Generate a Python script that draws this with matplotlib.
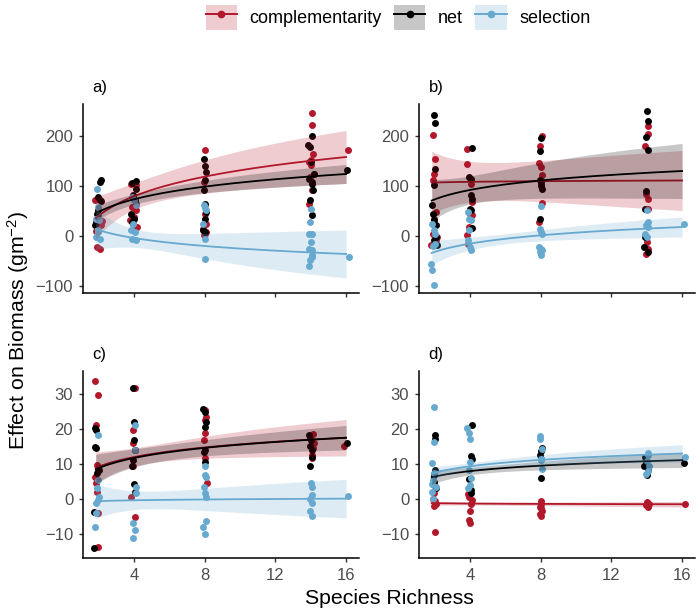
import numpy as np
import matplotlib
matplotlib.use("Agg")
import matplotlib.pyplot as plt
from matplotlib.patches import Patch
from matplotlib.lines import Line2D
from matplotlib.legend_handler import HandlerTuple

plt.rcParams['font.family'] = ['Liberation Sans', 'DejaVu Sans']
plt.rcParams['mathtext.default'] = 'regular'

# ---------------- data ----------------
series_names = ["complementarity", "net", "selection"]
series_colors = ["#B2182B", "#000000", "#67A9CF"]
panel_labels = ["a)", "b)", "c)", "d)"]
x_ticks = [4, 8, 12, 16]
y_ticks_top = [-100, 0, 100, 200]
y_ticks_bottom = [-10, 0, 10, 20, 30]

# panel a
a_comp_x = [1.8, 2.15, 1.9, 2.1, 2.0, 2.2, 1.85, 3.85, 4.1, 3.9, 4.15, 4.0, 3.8, 4.2, 3.95,
            8.0, 7.95, 8.05, 7.9, 8.1, 8.0, 7.95, 8.1,
            14.05, 14.1, 14.15, 13.9, 14.0, 14.2, 13.95, 14.05, 13.9, 14.0, 16.1]
a_comp_y = [72, 22, -21, -25, 42, 30, 10, 105, 102, 59, 52, 39, 32, 19, 25,
            172, 109, 45, 15, 9, 5, 2, 25,
            247, 222, 165, 149, 142, 125, 119, 92, 65, 152, 173]
a_net_x = [2.15, 2.1, 2.0, 2.1, 1.85, 1.8, 1.9, 2.0, 2.15, 4.1, 3.9, 4.15, 3.95, 4.05, 3.85, 4.0, 3.9, 4.1,
           7.95, 8.05, 8.1, 8.0, 7.95, 8.05, 8.1, 8.0, 7.9, 8.05,
           14.1, 13.95, 13.85, 14.0, 14.2, 13.9, 14.1, 14.15, 13.95, 14.1, 14.05, 16.05]
a_net_y = [112, 109, 79, 72, 29, 22, 45, 52, 70, 110, 107, 95, 82, 72, 45, 35, 29, 65,
           155, 140, 129, 112, 92, 65, 49, 35, 12, 9,
           200, 179, 182, 149, 125, 115, 109, 92, 72, 42, 105, 132]
a_sel_x = [1.9, 2.0, 1.85, 1.95, 1.85, 2.1, 2.05, 1.95, 3.9, 4.0, 4.15, 3.95, 3.85, 4.05, 3.9, 4.15,
           7.95, 8.05, 8.1, 7.9, 8.0, 8.0,
           14.0, 13.95, 13.9, 14.05, 14.0, 13.9, 14.1, 14.05, 13.95, 13.9, 14.1, 16.15]
a_sel_y = [95, 59, 35, 12, -1, -5, 32, 9, 79, 72, 62, 25, 12, 9, -5, -8,
           62, 57, 52, 25, -5, -45,
           55, 29, 5, 4, -11, -25, -28, -38, -48, -60, -41, -41]

# panel b
b_comp_x = [1.9, 2.05, 1.95, 1.9, 2.1, 2.0, 1.9, 2.15, 2.1, 1.8,
            3.85, 3.85, 4.05, 4.1, 4.0, 4.15, 3.95, 3.85, 3.9,
            8.1, 7.95, 7.9, 8.0, 8.1, 8.05, 8.1, 7.9,
            14.1, 14.05, 13.9, 13.95, 14.05, 14.1, 14.0, 14.1, 13.95]
b_comp_y = [202, 155, 125, 112, 49, 35, 5, -1, -8, -18,
            175, 144, 105, 69, 45, 42, 19, 2, -15,
            200, 181, 147, 139, 123, 100, 67, 29,
            221, 205, 180, 85, 75, 55, -11, -25, -35]
b_net_x = [2.0, 2.05, 2.05, 2.0, 1.85, 1.9, 1.95, 2.1, 1.95, 2.05, 2.15, 2.1,
           4.1, 3.95, 4.05, 4.05, 4.1, 4.0, 4.05, 4.1,
           8.05, 7.95, 7.95, 8.0, 8.05, 8.1, 7.95,
           14.0, 14.05, 13.95, 14.05, 13.95, 13.9, 13.9, 13.85, 14.1]
b_net_y = [242, 227, 135, 102, 62, 45, 32, 22, -8, -15, -18, -1,
           177, 119, 115, 82, 75, 55, 52, 17,
           197, 170, 113, 109, 102, 95, 35,
           251, 230, 199, 173, 91, 55, -1, -21, -31]
b_sel_x = [1.85, 2.0, 2.05, 1.9, 1.8, 1.85, 1.95, 2.05,
           3.9, 3.95, 4.05, 3.95, 3.9, 4.05, 4.0,
           8.05, 7.95, 8.05, 8.1, 7.9, 8.1, 7.95, 8.05, 8.0,
           14.0, 14.1, 13.95, 14.05, 13.9, 14.0, 16.1]
b_sel_y = [24, 12, 5, -20, -55, -67, -97, -15,
           49, 35, 32, 12, -8, -28, -21,
           60, 15, 9, 5, -21, -28, -31, -38, -25,
           52, 29, 22, 19, 5, -1, 25]

# panel c
c_comp_x = [1.8, 1.95, 1.85, 1.9, 1.95, 1.8, 1.85, 1.9, 2.0, 2.0,
            4.05, 3.95, 3.95, 3.95, 3.85, 4.05, 4.05,
            8.05, 8.1, 8.05, 8.0, 7.95, 8.0, 8.15,
            14.15, 13.95, 14.15, 14.05, 14.1, 14.2, 15.9]
c_comp_y = [33.8, 29.7, 21.2, 9.7, 9.2, 6.4, 4.5, 2.1, -4.1, -13.8,
            31.6, 19.7, 15.9, 9.5, 0.6, -5.1, 14.0,
            25.3, 23.4, 22.7, 18.9, 16.9, 11.6, 4.6,
            18.6, 17.4, 14.5, 12.6, 11.6, 15.9, 15.1]
c_net_x = [1.8, 1.85, 1.8, 1.85, 1.95, 1.9, 1.75, 1.75, 2.05,
           3.95, 4.0, 4.0, 4.05, 3.95, 3.9, 4.0, 4.05,
           7.9, 8.0, 8.1, 8.05, 8.0, 8.05, 7.95,
           13.9, 14.0, 13.95, 14.05, 14.1, 13.95, 16.05]
c_net_y = [20.2, 19.7, 14.9, 14.7, 8.7, 7.3, -3.6, -14.1, 8.3,
           31.6, 22.1, 16.9, 14.0, 11.2, 9.3, 4.3, 2.1,
           25.8, 24.9, 22.1, 20.7, 14.0, 10.7, 13.5,
           18.3, 16.9, 15.1, 14.0, 12.1, 9.5, 16.1]
c_sel_x = [1.95, 2.0, 1.9, 2.05, 1.95, 1.85, 1.85, 1.8,
           4.05, 4.05, 4.1, 4.1, 3.95, 4.05, 3.95,
           8.0, 8.05, 8.1, 7.95, 8.05, 8.1, 8.1, 7.9, 8.0,
           14.0, 14.1, 14.05, 13.95, 14.1, 13.95, 14.1, 16.1]
c_sel_y = [18.3, 5.4, 3.0, 0.6, -0.3, -1.2, -4.1, -7.9,
           21.2, 14.0, 3.5, 1.6, -6.8, -8.8, -11.2,
           9.5, 6.9, 6.2, 3.5, 1.6, 0.6, -6.3, -7.9, -10.1,
           4.5, 3.5, 1.1, 0.1, -1.2, -3.3, -5.0, 0.9]

# panel d
d_comp_x = [2.0, 1.9, 2.05, 2.1, 1.95, 2.05,
            3.9, 3.95, 4.1, 4.05, 4.0, 3.95, 4.0,
            8.0, 8.05, 7.95, 8.1, 7.95, 8.0, 8.05,
            14.0, 14.1, 13.95, 14.05, 14.15, 16.15]
d_comp_y = [1.6, 0.1, -0.7, -1.3, -2.0, -9.5,
            1.3, 0.6, -0.4, -1.3, -3.5, -6.1, -6.9,
            -0.7, -1.5, -2.3, -3.4, -4.2, -4.9, -2.7,
            -0.8, -1.3, -1.8, -2.3, -1.5, -1.5]
d_net_x = [2.05, 2.05, 2.05, 1.95, 1.95, 2.0, 2.1,
           4.1, 4.05, 4.1, 3.95, 4.05, 4.05,
           8.0, 7.95, 8.05, 8.0, 8.1,
           13.9, 13.85, 14.0, 14.1, 13.95, 16.1]
d_net_y = [18.4, 17.0, 8.4, 6.8, 4.9, 3.9, 3.0,
           21.2, 12.3, 11.3, 5.6, 2.5, 1.7,
           13.6, 12.7, 11.3, 5.9, 14.7,
           12.1, 9.5, 6.9, 8.2, 10.3, 10.4]
d_sel_x = [1.95, 1.95, 1.85, 1.9, 1.85, 2.1, 1.85, 1.9, 2.0,
           3.85, 3.95, 4.0, 4.0, 3.95, 4.0, 3.9, 4.05,
           7.95, 7.95, 8.1, 8.05, 8.1, 8.0,
           14.05, 14.1, 14.0, 14.15, 14.05, 13.95, 16.15]
d_sel_y = [26.2, 16.4, 10.2, 5.4, 4.3, 3.5, 2.1, 0.1, 7.3,
           20.2, 18.8, 17.0, 10.7, 8.4, 3.9, 3.0, 5.9,
           17.9, 17.1, 14.4, 11.5, 8.7, 11.0,
           13.2, 12.6, 10.9, 9.5, 7.9, 7.2, 11.9]

# fitted log-richness smooths:
# [fit at S=2, fit at S=16, CI half-width at S=2, minimum CI half-width, CI half-width at S=16]
a_comp_fit = [40, 158, 40, 26, 53]
a_net_fit = [48, 124, 15, 10, 19]
a_sel_fit = [12, -36, 38, 17, 48]
b_comp_fit = [107, 111, 60, 38, 60]
b_net_fit = [73, 130, 40, 28, 55]
b_sel_fit = [-32, 18, 23, 10, 20]
c_comp_fit = [9.2, 17.5, 4.3, 2.5, 5.2]
c_net_fit = [8.8, 17.5, 4.1, 2.2, 3.5]
c_sel_fit = [-0.6, 0.1, 4.7, 2.5, 5.5]
d_comp_fit = [-1.2, -1.5, 0.6, 0.4, 0.8]
d_net_fit = [6.4, 11.1, 1.9, 1.0, 2.1]
d_sel_fit = [7.5, 13.0, 1.7, 1.0, 2.5]
fit_range = [1.85, 16.0]

panels = [
    [(a_comp_x, a_comp_y, a_comp_fit), (a_net_x, a_net_y, a_net_fit), (a_sel_x, a_sel_y, a_sel_fit)],
    [(b_comp_x, b_comp_y, b_comp_fit), (b_net_x, b_net_y, b_net_fit), (b_sel_x, b_sel_y, b_sel_fit)],
    [(c_comp_x, c_comp_y, c_comp_fit), (c_net_x, c_net_y, c_net_fit), (c_sel_x, c_sel_y, c_sel_fit)],
    [(d_comp_x, d_comp_y, d_comp_fit), (d_net_x, d_net_y, d_net_fit), (d_sel_x, d_sel_y, d_sel_fit)],
]


def smooth_curve(fit, xs):
    y2, y16, w2, wmin, w16 = fit
    l2, l16 = np.log(2), np.log(16)
    b = (y16 - y2) / (l16 - l2)
    a = y2 - b * l2
    lx = np.log(xs)
    r = np.sqrt(max(w2 ** 2 - wmin ** 2, 0) / max(w16 ** 2 - wmin ** 2, 1e-9))
    c = (l2 + r * l16) / (1 + r)
    k = np.sqrt(max(w16 ** 2 - wmin ** 2, 0)) / (l16 - c)
    w = np.sqrt(wmin ** 2 + (k * (lx - c)) ** 2)
    fitv = a + b * lx
    return fitv, fitv - w, fitv + w


# ---------------- figure ----------------
W, H = 700, 615
fig = plt.figure(figsize=(7, 6.15), dpi=100)

col_px = [(83, 359), (419, 695)]
row_px = [(104, 293), (371, 558)]
ylims = [(-114, 264), (-16.86, 36.57)]
xlim = (1.13, 16.73)
ribbon_alpha = 0.22

for i, pdata in enumerate(panels):
    r, cidx = divmod(i, 2)
    l, rr = col_px[cidx]
    t, bt = row_px[r]
    ax = fig.add_axes([l / W, 1 - bt / H, (rr - l) / W, (bt - t) / H])
    for (xs, ys, fit), col in zip(pdata, series_colors):
        ax.scatter(xs, ys, s=25, color=col, linewidths=0, zorder=2)
    xx = np.linspace(fit_range[0], fit_range[1], 200)
    z = 3
    for (xs, ys, fit), col in zip(pdata, series_colors):
        f, lo, hi = smooth_curve(fit, xx)
        ax.fill_between(xx, lo, hi, color=col, alpha=ribbon_alpha, linewidth=0, zorder=z)
        ax.plot(xx, f, color=col, lw=1.3, zorder=z + 0.5)
        z += 1
    ax.set_xlim(*xlim)
    ax.set_ylim(*ylims[r])
    ax.set_xticks(x_ticks)
    ax.set_yticks(y_ticks_top if r == 0 else y_ticks_bottom)
    ax.spines['top'].set_visible(False)
    ax.spines['right'].set_visible(False)
    for s in ['left', 'bottom']:
        ax.spines[s].set_linewidth(1.1)
        ax.spines[s].set_color('black')
    ax.tick_params(length=3.1, width=1.0, color='#333333', labelcolor='#4D4D4D',
                   labelsize=12, pad=4)
    if r == 0:
        ax.tick_params(labelbottom=False)
    ax.annotate(panel_labels[i], xy=(0, 1), xycoords='axes fraction',
                xytext=(7, 8.5), textcoords='offset points',
                ha='left', va='baseline', fontsize=12, color='black')

fig.text(18 / W, 1 - 330 / H, 'Effect on Biomass (gm$^{-2}$)', rotation=90,
         ha='center', va='center', fontsize=15.3)
fig.text(389 / W, 1 - 598 / H, 'Species Richness', ha='center', va='center', fontsize=15.3)

handles = [(Patch(facecolor=col, alpha=ribbon_alpha, edgecolor='none'),
            Line2D([], [], color=col, lw=1.4, marker='o', ms=4.5))
           for col in series_colors]
fig.legend(handles, series_names, handler_map={tuple: HandlerTuple(ndivide=1, pad=0)},
           loc='center', bbox_to_anchor=(398 / W, 1 - 17.5 / H), ncol=3, frameon=False,
           fontsize=13, handlelength=1.72, handleheight=1.72, handletextpad=0.7,
           columnspacing=0.7, numpoints=1)

fig.savefig('out.png', dpi=100)
